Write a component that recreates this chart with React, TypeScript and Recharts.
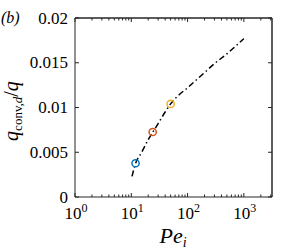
import React from "react";
import {
  ComposedChart,
  Line,
  XAxis,
  YAxis,
  ReferenceLine,
} from "recharts";

// dash-dot curve
const curvePe = [10.3, 12, 15, 20, 25, 30, 40, 50, 70, 100, 150, 200, 300, 500, 700, 1000];
const curveQ = [
  0.0023, 0.0038, 0.0049, 0.0064, 0.0074, 0.0082, 0.0095, 0.0104,
  0.0114, 0.0122, 0.0132, 0.0139, 0.0149, 0.016, 0.0168, 0.0177,
];

// circle markers
const markerPe = [11.9, 24, 50];
const markerQ = [0.00377, 0.00726, 0.0104];
const markerColors = ["#0072BD", "#D95319", "#EDB120"];

const majorX = [1, 10, 100, 1000];
const minorX = [2, 3, 4, 5, 6, 7, 8, 9, 20, 30, 40, 50, 60, 70, 80, 90, 200, 300, 400, 500, 600, 700, 800, 900, 2000, 3000];
const xMax = 3162;
const yTicks = [0, 0.005, 0.01, 0.015, 0.02];
const yTickLabels = ["0", "0.005", "0.01", "0.015", "0.02"];

const curve = curvePe.map((pe, i) => ({ pe, q: curveQ[i] }));
const markers = markerPe.map((pe, i) => ({ pe, q: markerQ[i], color: markerColors[i] }));
const allX = [...majorX, ...minorX].sort((a, b) => a - b);

const W = 300;
const H = 251;
const M = { top: 18, right: 28, bottom: 0, left: 0 };
const X_AXIS_H = 54;
const Y_AXIS_W = 75;
// plot box size, used to mirror ticks onto the top and right edges
const PLOT_H = H - M.top - M.bottom - X_AXIS_H;
const PLOT_W = W - M.left - M.right - Y_AXIS_W;

const AXIS = "#262626";
const FONT = '"Liberation Serif", "Times New Roman", serif';

const BottomTick = (props: any) => {
  const { x, y, payload } = props;
  const v = payload.value;
  const major = majorX.includes(v);
  const len = major ? 4 : 2.5;
  return (
    <g>
      <line x1={x} x2={x} y1={y} y2={y - len} stroke={AXIS} strokeWidth={1} />
      <line x1={x} x2={x} y1={y - PLOT_H} y2={y - PLOT_H + len} stroke={AXIS} strokeWidth={1} />
      {major && (
        <text x={x + 1} y={y + 22} textAnchor="middle" fontFamily={FONT} fontSize={17} fill="#000">
          <tspan>10</tspan>
          <tspan dy={-7} fontSize={12}>{Math.round(Math.log10(v))}</tspan>
        </text>
      )}
    </g>
  );
};

const LeftTick = (props: any) => {
  const { x, y, payload } = props;
  const idx = yTicks.indexOf(payload.value);
  return (
    <g>
      <line x1={x} x2={x + 4} y1={y} y2={y} stroke={AXIS} strokeWidth={1} />
      <line x1={x + PLOT_W} x2={x + PLOT_W - 4} y1={y} y2={y} stroke={AXIS} strokeWidth={1} />
      <text x={x - 7} y={y} textAnchor="end" dominantBaseline="central" fontFamily={FONT} fontSize={17} fill="#000">
        {yTickLabels[idx]}
      </text>
    </g>
  );
};

const Marker = (props: any) => {
  const { cx, cy, payload } = props;
  return <circle cx={cx} cy={cy} r={3.6} fill="none" stroke={payload.color} strokeWidth={1.5} />;
};

export default function App() {
  const left = M.left + Y_AXIS_W;
  const top = M.top;
  return (
    <div style={{ position: "absolute", left: 0, top: 0, width: W, height: H }}>
      <ComposedChart width={W} height={H} margin={M}>
        <XAxis
          dataKey="pe"
          type="number"
          scale="log"
          domain={[1, xMax]}
          allowDataOverflow
          ticks={allX}
          interval={0}
          height={X_AXIS_H}
          tickSize={0}
          tickMargin={0}
          tick={<BottomTick />}
          axisLine={{ stroke: AXIS, strokeWidth: 1 }}
        />
        <YAxis
          type="number"
          domain={[0, 0.02]}
          ticks={yTicks}
          interval={0}
          width={Y_AXIS_W}
          tickSize={0}
          tickMargin={0}
          tick={<LeftTick />}
          axisLine={{ stroke: AXIS, strokeWidth: 1 }}
        />
        <Line
          data={curve}
          dataKey="q"
          type="monotone"
          stroke="#000"
          strokeWidth={1.5}
          strokeDasharray="6 3 1.5 3"
          dot={false}
          activeDot={false}
          isAnimationActive={false}
        />
        <Line
          data={markers}
          dataKey="q"
          stroke="none"
          dot={<Marker />}
          activeDot={false}
          isAnimationActive={false}
        />
        {/* closing the box on top and right */}
        <ReferenceLine y={0.02} stroke={AXIS} strokeWidth={1} />
        <ReferenceLine x={xMax} stroke={AXIS} strokeWidth={1} />
      </ComposedChart>
      <svg
        width={W}
        height={H}
        style={{ position: "absolute", left: 0, top: 0, pointerEvents: "none" }}
      >
        {/* top and right edges of the plot frame */}
        <line x1={left} x2={left + PLOT_W} y1={top} y2={top} stroke={AXIS} strokeWidth={1} />
        <line x1={left + PLOT_W} x2={left + PLOT_W} y1={top} y2={top + PLOT_H} stroke={AXIS} strokeWidth={1} />
        <text x={1} y={23} fontFamily={FONT} fontStyle="italic" fontSize={16} fill="#000">
          (b)
        </text>
        <text
          transform="translate(18,111) rotate(-90)"
          textAnchor="middle"
          fontFamily={FONT}
          fontSize={20}
          fill="#000"
        >
          <tspan fontStyle="italic">q</tspan>
          <tspan fontSize={13} dy={4}>conv,</tspan>
          <tspan fontSize={13} fontStyle="italic">d</tspan>
          <tspan dy={-4}>/</tspan>
          <tspan fontStyle="italic">q</tspan>
        </text>
        <text x={173} y={243} textAnchor="middle" fontFamily={FONT} fontSize={22} fill="#000">
          <tspan fontStyle="italic">Pe</tspan>
          <tspan fontSize={14} fontStyle="italic" dy={4}>i</tspan>
        </text>
      </svg>
    </div>
  );
}
